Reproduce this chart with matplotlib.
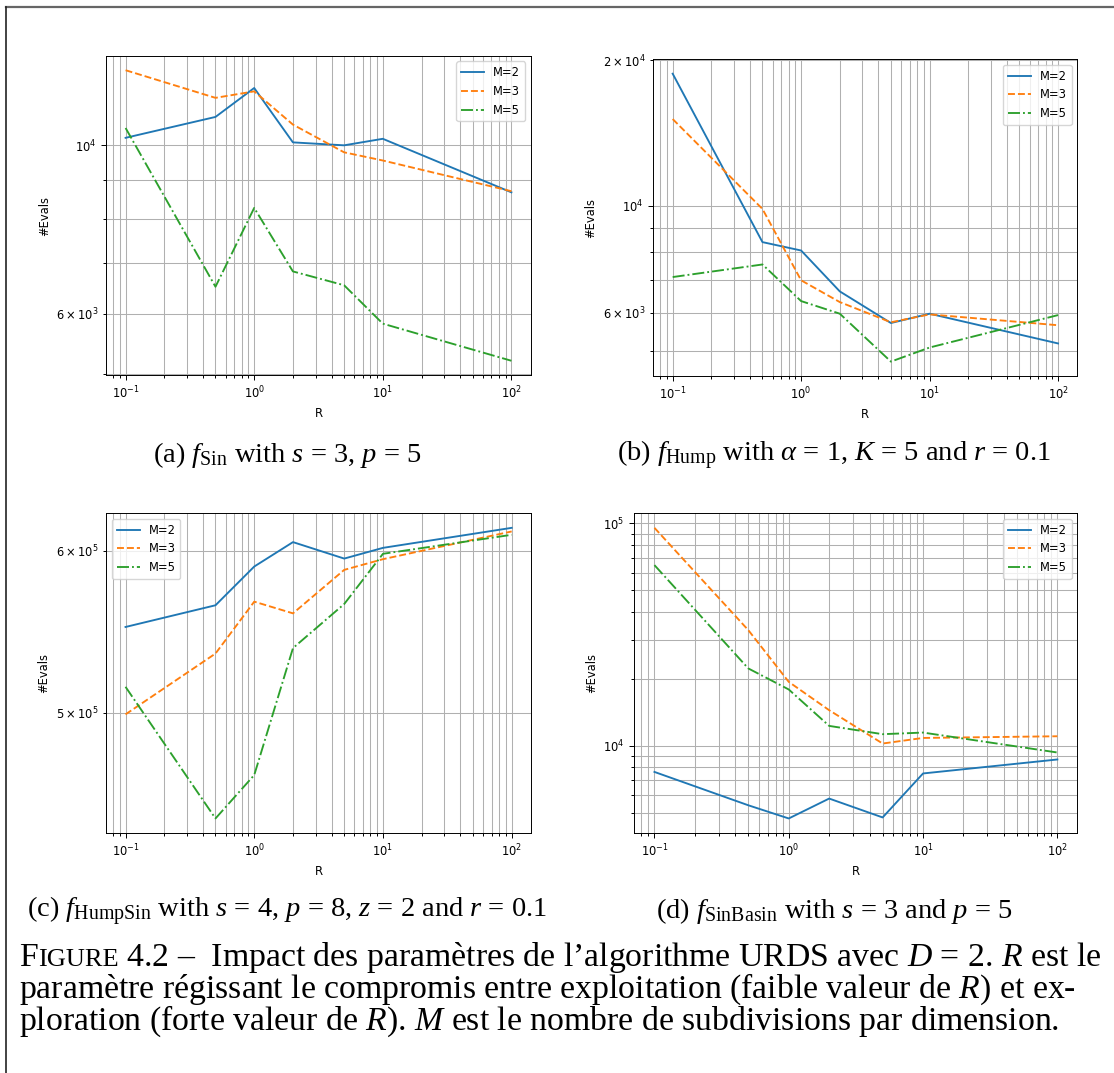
import matplotlib
matplotlib.use("Agg")
import matplotlib.pyplot as plt
from matplotlib.lines import Line2D

# R values (x axis) shared by all panels
R = [0.1, 0.5, 1, 2, 5, 10, 100]

# (a) f_Sin
sin_m2 = [10230, 10900, 11900, 10090, 10000, 10200, 8670]
sin_m3 = [12560, 11550, 11780, 10650, 9790, 9550, 8700]
sin_m5 = [10540, 6510, 8270, 6820, 6540, 5820, 5200]

# (b) f_Hump
hump_m2 = [18760, 8400, 8070, 6640, 5710, 5970, 5180]
hump_m3 = [15110, 9840, 7000, 6310, 5730, 5950, 5650]
hump_m5 = [7110, 7550, 6340, 5970, 4750, 5080, 5930]

# (c) f_HumpSin
humpsin_m2 = [550600, 564200, 589300, 605700, 594600, 601800, 615500]
humpsin_m3 = [499100, 534400, 566500, 559100, 587100, 594200, 613000]
humpsin_m5 = [514800, 444000, 466200, 537700, 565000, 597800, 610700]

# (d) f_SinBasin
sinbasin_m2 = [7640, 5410, 4720, 5800, 4770, 7520, 8690]
sinbasin_m3 = [95500, 33130, 19400, 14470, 10250, 10860, 11050]
sinbasin_m5 = [64930, 22290, 17930, 12300, 11290, 11480, 9340]

labels = ["M=2", "M=3", "M=5"]

sub_captions = [
    r"(a) $f_{\mathrm{Sin}}$ with $s$ = 3, $p$ = 5",
    r"(b) $f_{\mathrm{Hump}}$ with $\alpha$ = 1, $K$ = 5 and $r$ = 0.1",
    r"(c) $f_{\mathrm{HumpSin}}$ with $s$ = 4, $p$ = 8, $z$ = 2 and $r$ = 0.1",
    r"(d) $f_{\mathrm{SinBasin}}$ with $s$ = 3 and $p$ = 5",
]

W, H = 1114, 1073
TICK_FS = 8.3
plt.rcParams["mathtext.rm"] = "Liberation Serif"
plt.rcParams["mathtext.it"] = "Liberation Serif:italic"
plt.rcParams["mathtext.bf"] = "Liberation Serif:bold"

fig = plt.figure(figsize=(W / 100, H / 100), dpi=100)


def add_px_axes(left, top, right, bottom):
    return fig.add_axes([left / W, 1 - bottom / H, (right - left) / W, (bottom - top) / H])


def draw_panel(ax, m2, m3, m5, loc):
    ax.loglog(R, m2, "-", color="tab:blue", lw=1.35, label=labels[0])
    ax.loglog(R, m3, "--", color="tab:orange", lw=1.35, label=labels[1])
    ax.loglog(R, m5, "-.", color="tab:green", lw=1.35, label=labels[2])
    ax.grid(True, which="both", color="#b0b0b0", lw=0.75)
    ax.set_xlabel("R", fontsize=TICK_FS)
    ax.set_ylabel("#Evals", fontsize=TICK_FS)
    ax.tick_params(which="both", labelsize=TICK_FS, width=0.7)
    for s in ax.spines.values():
        s.set_linewidth(0.7)
    ax.legend(loc=loc, fontsize=TICK_FS)


panels = [
    ((106.3, 55.7, 530.7, 375.3), (sin_m2, sin_m3, sin_m5), "upper right"),
    ((653.4, 59.3, 1077.3, 376.0), (hump_m2, hump_m3, hump_m5), "upper right"),
    ((106.2, 513.3, 531.0, 833.0), (humpsin_m2, humpsin_m3, humpsin_m5), "upper left"),
    ((634.3, 513.3, 1077.5, 833.0), (sinbasin_m2, sinbasin_m3, sinbasin_m5), "upper right"),
]
for box, series, loc in panels:
    ax = add_px_axes(*box)
    draw_panel(ax, *series, loc)

# sub-captions
cap_pos = [(287, 455), (834, 455), (287, 911), (834, 911)]
for (cx, cy), txt in zip(cap_pos, sub_captions):
    fig.text(cx / W, 1 - cy / H, txt, ha="center", va="center", fontsize=20.5,
             family="Liberation Serif", math_fontfamily="custom")

# page frame (top and left edges)
fig.add_artist(Line2D([6 / W, 1], [1 - 6.5 / H, 1 - 6.5 / H], color="#666666", lw=1.6))
fig.add_artist(Line2D([6 / W, 6 / W], [0, 1 - 6.5 / H], color="#222222", lw=1.2))

# figure caption, "Figure" in small caps
CAP_FS = 24.3
cap_lines = [
    r" 4.2 –  Impact des paramètres de l’algorithme URDS avec $D$ = 2. $R$ est le",
    r"paramètre régissant le compromis entre exploitation (faible valeur de $R$) et ex-",
    r"ploration (forte valeur de $R$). $M$ est le nombre de subdivisions par dimension.",
]
cap_y = [958, 990, 1022]
kw = dict(family="Liberation Serif", math_fontfamily="custom", va="baseline")
base0 = 1 - (cap_y[0] + 8) / H
first_f = fig.text(19 / W, base0, "F", fontsize=CAP_FS, **kw)
small = fig.add_artist(plt.Annotation("IGURE", xy=(1, base0),
                                      xycoords=(first_f, "figure fraction"),
                                      fontsize=CAP_FS * 0.78, **kw))
fig.add_artist(plt.Annotation(cap_lines[0], xy=(1, base0),
                              xycoords=(small, "figure fraction"),
                              fontsize=CAP_FS, **kw))
for y, line in zip(cap_y[1:], cap_lines[1:]):
    fig.text(19 / W, 1 - (y + 8) / H, line, fontsize=CAP_FS, **kw)

fig.savefig("out.png", dpi=100)
